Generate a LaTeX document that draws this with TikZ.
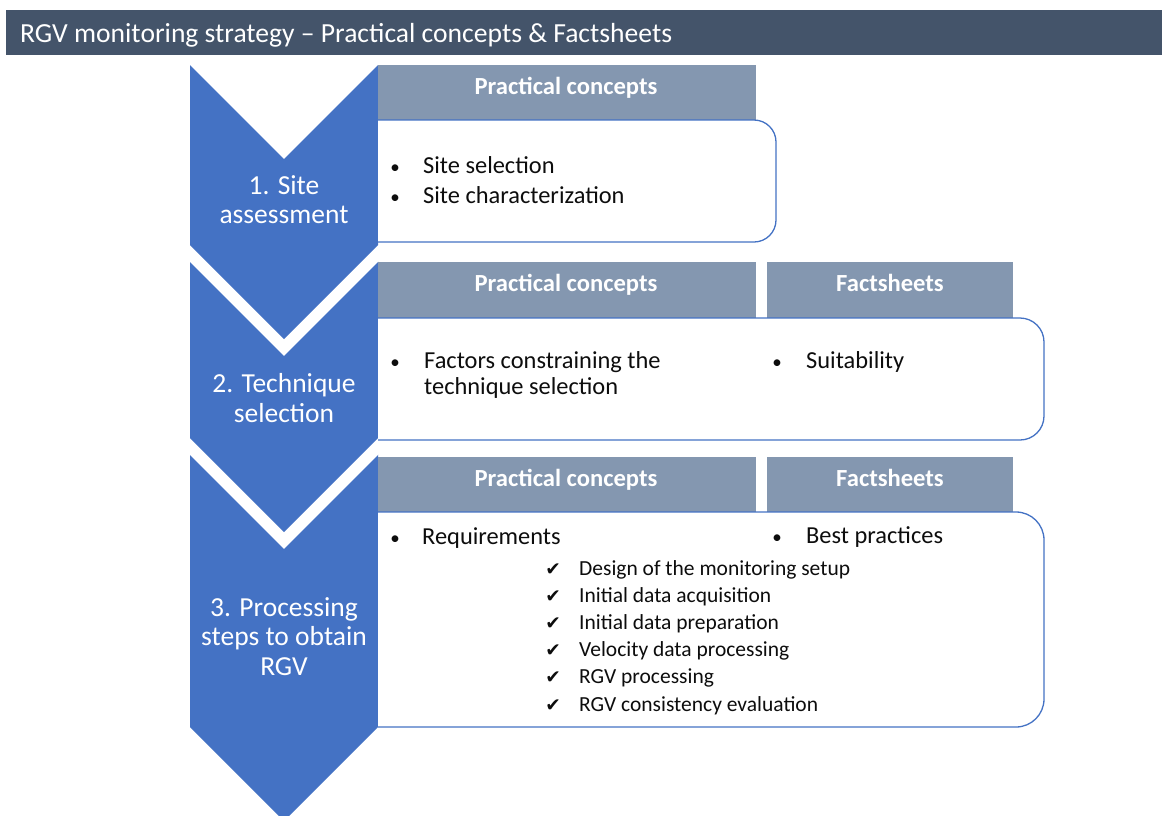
\documentclass[tikz,border=0pt]{standalone}
\usepackage{fontspec}
\setmainfont{Carlito}
\newfontfamily\symfont{DejaVu Sans}
\definecolor{chevblue}{HTML}{4472C4}
\definecolor{hdrgray}{HTML}{8497B0}
\definecolor{titlebar}{HTML}{44546A}
\definecolor{boxline}{HTML}{4472C4}
\definecolor{bodytext}{HTML}{0D0D0D}
\begin{document}
\begin{tikzpicture}[x=1pt,y=-1pt,
  chev/.style={fill=chevblue},
  sepline/.style={draw=white, line width=11pt, line join=miter},
  hdr/.style={fill=hdrgray},
  hdrtext/.style={text=white, font=\fontsize{24.6}{29}\selectfont\bfseries, anchor=base, inner sep=0pt},
  cbox/.style={fill=white, draw=boxline, line width=1.3pt},
  itemtext/.style={font=\fontsize{24.4}{29}\selectfont, anchor=base west, inner sep=0pt, text=bodytext},
  subtext/.style={font=\fontsize{21.5}{26}\selectfont, anchor=base west, inner sep=0pt, text=bodytext},
  bul/.style={font=\fontsize{19}{22}\selectfont, anchor=base, inner sep=0pt, text=bodytext},
  chk/.style={font=\fontsize{18.5}{24}\symfont, anchor=base, inner sep=0pt, text=bodytext},
  chevtext/.style={text=white, font=\fontsize{27.5}{31}\selectfont, anchor=base, inner sep=0pt},
  titletext/.style={text=white, font=\fontsize{27.6}{32}\selectfont, anchor=base west, inner sep=0pt}
]
\useasboundingbox (0,0) rectangle (1162,815);
\clip (0,0) rectangle (1162,815);

% title bar
\fill[titlebar] (6,10) rectangle (1162,55);
\node[titletext] (title) at (20,42) {RGV monitoring strategy – Practical concepts \& Factsheets};

% chevrons
\fill[chev] (190,65) -- (284,159) -- (378,65) -- (378,245) -- (284,339) -- (190,245) -- cycle;
\fill[chev] (190,254) -- (284,348) -- (378,254) -- (378,438) -- (284,532) -- (190,438) -- cycle;
\draw[sepline] (180,244) -- (284,348) -- (388,244);
\fill[chev] (190,447) -- (284,541) -- (378,447) -- (378,727) -- (284,821) -- (190,727) -- cycle;
\draw[sepline] (180,437) -- (284,541) -- (388,437);

\node[chevtext] (c1a) at (284,194) {1. Site};
\node[chevtext] (c1b) at (284,223) {assessment};
\node[chevtext] (c2a) at (284,392) {2. Technique};
\node[chevtext] (c2b) at (284,422) {selection};
\node[chevtext] (c3a) at (284,616) {3. Processing};
\node[chevtext] (c3b) at (284,645) {steps to obtain};
\node[chevtext] (c3c) at (284,675) {RGV};

% row 1
\fill[hdr] (378,65) rectangle (756,120);
\node[hdrtext] (h1) at (566,94) {Practical concepts};
\path[cbox] (378,120) -- (700,120) [rounded corners=22pt] -- (776,120) -- (776,242) -- (700,242) [sharp corners] -- (378,242);
\node[bul] (b1a) at (395,173) {\textbullet};
\node[itemtext] (t1a) at (423,173) {Site selection};
\node[bul] (b1b) at (395,203) {\textbullet};
\node[itemtext] (t1b) at (423,203) {Site characterization};

% row 2
\fill[hdr] (378,262) rectangle (756,318);
\fill[hdr] (767,262) rectangle (1013,318);
\node[hdrtext] (h2a) at (566,291) {Practical concepts};
\node[hdrtext] (h2b) at (890,291) {Factsheets};
\path[cbox] (378,318) -- (900,318) [rounded corners=24pt] -- (1044,318) -- (1044,440) -- (900,440) [sharp corners] -- (378,440);
\node[bul] (b2a) at (395,368) {\textbullet};
\node[itemtext] (t2a) at (424,368) {Factors constraining the};
\node[itemtext] (t2b) at (424,394) {technique selection};
\node[bul] (b2b) at (777,368) {\textbullet};
\node[itemtext] (t2c) at (806,368) {Suitability};

% row 3
\fill[hdr] (378,457) rectangle (756,512);
\fill[hdr] (767,457) rectangle (1013,512);
\node[hdrtext] (h3a) at (566,486) {Practical concepts};
\node[hdrtext] (h3b) at (890,486) {Factsheets};
\path[cbox] (378,512) -- (900,512) [rounded corners=28pt] -- (1044,512) -- (1044,727) -- (900,727) [sharp corners] -- (378,727);
\node[bul] (b3a) at (395,544) {\textbullet};
\node[itemtext] (t3a) at (422,544) {Requirements};
\node[bul] (b3b) at (777,543) {\textbullet};
\node[itemtext] (t3b) at (806,543) {Best practices};

\node[chk] (k1) at (553,575) {✔};
\node[subtext] (s1) at (579,575) {Design of the monitoring setup};
\node[chk] (k2) at (553,602) {✔};
\node[subtext] (s2) at (579,602) {Initial data acquisition};
\node[chk] (k3) at (553,629) {✔};
\node[subtext] (s3) at (579,629) {Initial data preparation};
\node[chk] (k4) at (553,656) {✔};
\node[subtext] (s4) at (579,656) {Velocity data processing};
\node[chk] (k5) at (553,683) {✔};
\node[subtext] (s5) at (579,683) {RGV processing};
\node[chk] (k6) at (553,711) {✔};
\node[subtext] (s6) at (579,711) {RGV consistency evaluation};
\end{tikzpicture}
\end{document}
